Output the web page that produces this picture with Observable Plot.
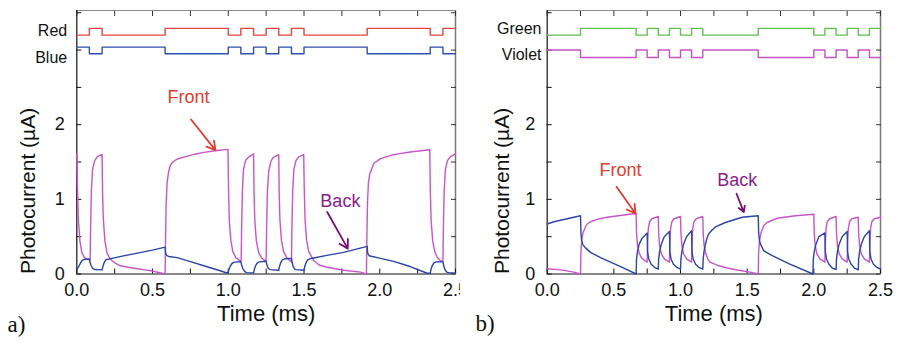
<!DOCTYPE html>
<html>
<head>
<meta charset="utf-8">
<script src="https://cdn.jsdelivr.net/npm/d3@7"></script>
<script src="https://cdn.jsdelivr.net/npm/@observablehq/plot@0.6"></script>
<style>
  html, body { margin: 0; padding: 0; background: #fff; }
  #wrap { position: relative; width: 898px; height: 343px; overflow: hidden; }
  #pa { position: absolute; left: 0; top: 0; }
  #pb { position: absolute; left: 460px; top: 0; }
</style>
</head>
<body>
<div id="wrap"><div id="pa"></div><div id="pb"></div></div>
<script>
// ---------- axes ----------
const xMax = 2.5;
const yMax = 3.53;
const xTicks = [0, 0.25, 0.5, 0.75, 1, 1.25, 1.5, 1.75, 2, 2.25, 2.5];
const xTickLabels = [0, 0.5, 1, 1.5, 2, 2.5];
const yTicks = [0, 0.5, 1, 1.5, 2, 2.5, 3, 3.5];
const yTickLabels = [0, 1, 2];

// ---------- digital drive signals (state switch times, ms) ----------
const redTimes = [0, 0.083, 0.167, 0.583, 1.0, 1.083, 1.167, 1.25, 1.333, 1.417, 1.5, 1.917, 2.333, 2.417, 2.5];
const redStates = [0, 1, 0, 1, 0, 1, 0, 1, 0, 1, 0, 1, 0, 1, 1];
const blueStates = [1, 0, 1, 0, 1, 0, 1, 0, 1, 0, 1, 0, 1, 0, 0];
const greenTimes = [0, 0.25, 0.667, 0.75, 0.833, 0.917, 1.0, 1.083, 1.167, 1.583, 2.0, 2.083, 2.167, 2.25, 2.333, 2.417, 2.5];
const greenStates = [0, 1, 0, 1, 0, 1, 0, 1, 0, 1, 0, 1, 0, 1, 0, 1, 1];
const violetStates = [1, 0, 1, 0, 1, 0, 1, 0, 1, 0, 1, 0, 1, 0, 1, 0, 0];
// high / low levels of each trace, in photocurrent-axis units
const redLevels = [3.20, 3.29];
const blueLevels = [2.95, 3.04];
const greenLevels = [3.20, 3.29];
const violetLevels = [2.90, 3.00];
const channelNamesA = ["Red", "Blue"];
const channelLabelYA = [3.26, 2.90];
const channelNamesB = ["Green", "Violet"];
const channelLabelYB = [3.28, 2.93];

// ---------- photocurrents (t in ms, I in µA) ----------
const frontA = [
  [0,1.61],[0.004,1.2],[0.01,0.75],[0.02,0.45],[0.033,0.29],[0.05,0.22],[0.07,0.2],[0.088,0.19],
  [0.091,0.6],[0.096,1.1],[0.104,1.4],[0.118,1.52],[0.135,1.57],[0.15,1.59],[0.167,1.6],
  [0.17,1.1],[0.175,0.75],[0.185,0.45],[0.2,0.28],[0.22,0.2],[0.25,0.15],[0.288,0.11],[0.34,0.09],[0.4,0.07],[0.45,0.055],[0.5,0.04],[0.54,0.02],[0.583,0],
  [0.586,0.5],[0.59,0.95],[0.596,1.22],[0.605,1.36],[0.618,1.46],[0.64,1.51],[0.663,1.54],[0.729,1.58],[0.78,1.605],[0.838,1.63],[0.927,1.655],[0.998,1.67],
  [1.002,1.1],[1.007,0.7],[1.017,0.45],[1.03,0.3],[1.05,0.22],[1.07,0.19],[1.085,0.17],
  [1.088,0.6],[1.093,1.1],[1.1,1.4],[1.114,1.52],[1.136,1.57],[1.167,1.61],
  [1.17,1.1],[1.175,0.72],[1.185,0.45],[1.2,0.29],[1.222,0.21],[1.25,0.17],
  [1.253,0.6],[1.258,1.1],[1.267,1.38],[1.28,1.5],[1.295,1.56],[1.333,1.6],
  [1.336,1.1],[1.341,0.72],[1.351,0.45],[1.365,0.3],[1.389,0.21],[1.417,0.16],
  [1.42,0.6],[1.425,1.1],[1.433,1.4],[1.447,1.52],[1.465,1.57],[1.498,1.6],
  [1.502,1.1],[1.507,0.72],[1.517,0.45],[1.531,0.3],[1.564,0.18],[1.6,0.12],[1.653,0.09],[1.762,0.05],[1.873,0.025],[1.912,0],
  [1.915,0.5],[1.919,0.95],[1.925,1.22],[1.934,1.34],[1.96,1.48],[2.005,1.545],[2.092,1.6],[2.2,1.635],[2.33,1.665],
  [2.334,1.1],[2.339,0.72],[2.349,0.45],[2.363,0.3],[2.38,0.22],[2.4,0.18],[2.417,0.17],
  [2.42,0.6],[2.425,1.1],[2.433,1.4],[2.447,1.52],[2.465,1.57],[2.5,1.61]
];
const backA = [
  [0,0.07],[0.01,0.09],[0.02,0.13],[0.028,0.16],[0.038,0.185],[0.05,0.195],[0.083,0.2],
  [0.087,0.16],[0.095,0.11],[0.105,0.075],[0.12,0.06],[0.167,0.055],
  [0.172,0.1],[0.18,0.15],[0.19,0.185],[0.2,0.195],[0.211,0.2],[0.3,0.24],[0.4,0.28],[0.5,0.32],[0.583,0.36],
  [0.586,0.28],[0.595,0.245],[0.607,0.235],[0.663,0.22],[0.75,0.165],[0.838,0.11],[0.92,0.06],[0.997,0.01],
  [1.003,0.05],[1.012,0.1],[1.022,0.135],[1.035,0.155],[1.055,0.163],[1.083,0.165],
  [1.088,0.12],[1.097,0.07],[1.108,0.035],[1.12,0.018],[1.167,0.015],
  [1.172,0.06],[1.18,0.11],[1.19,0.145],[1.205,0.162],[1.25,0.17],
  [1.255,0.12],[1.263,0.08],[1.275,0.058],[1.333,0.05],
  [1.338,0.1],[1.346,0.15],[1.356,0.19],[1.375,0.205],[1.417,0.21],
  [1.422,0.15],[1.43,0.09],[1.442,0.058],[1.5,0.05],
  [1.505,0.1],[1.513,0.15],[1.524,0.19],[1.545,0.208],[1.564,0.215],[1.65,0.25],[1.762,0.29],[1.917,0.37],
  [1.92,0.28],[1.93,0.245],[1.95,0.235],[1.983,0.22],[2.092,0.17],[2.2,0.1],[2.313,0.01],[2.333,0.01],
  [2.338,0.06],[2.346,0.11],[2.356,0.145],[2.372,0.162],[2.417,0.165],
  [2.422,0.11],[2.43,0.06],[2.442,0.025],[2.46,0.015],[2.5,0.015]
];
const frontB = [
  [0,0.07],[0.1,0.055],[0.2,0.025],[0.25,0],
  [0.253,0.3],[0.26,0.47],[0.27,0.56],[0.287,0.63],[0.3,0.67],[0.325,0.7],[0.38,0.735],[0.45,0.76],[0.575,0.79],[0.667,0.81],
  [0.67,0.55],[0.677,0.38],[0.69,0.28],[0.71,0.21],[0.73,0.18],[0.75,0.16],
  [0.753,0.4],[0.758,0.6],[0.768,0.7],[0.785,0.74],[0.833,0.77],
  [0.836,0.55],[0.843,0.38],[0.856,0.27],[0.88,0.2],[0.917,0.16],
  [0.92,0.4],[0.925,0.6],[0.935,0.7],[0.952,0.74],[1.0,0.77],
  [1.003,0.55],[1.01,0.38],[1.023,0.27],[1.047,0.2],[1.083,0.16],
  [1.086,0.4],[1.091,0.6],[1.101,0.7],[1.118,0.74],[1.167,0.77],
  [1.17,0.55],[1.177,0.38],[1.19,0.27],[1.205,0.2],[1.222,0.16],[1.287,0.11],[1.35,0.08],[1.437,0.05],[1.52,0.025],[1.583,0],
  [1.586,0.3],[1.593,0.45],[1.605,0.56],[1.625,0.65],[1.65,0.69],[1.7,0.73],[1.737,0.75],[1.862,0.78],[2.0,0.8],
  [2.003,0.55],[2.01,0.38],[2.023,0.27],[2.047,0.2],[2.083,0.16],
  [2.086,0.4],[2.091,0.6],[2.101,0.7],[2.118,0.74],[2.167,0.77],
  [2.17,0.55],[2.177,0.38],[2.19,0.27],[2.214,0.2],[2.25,0.16],
  [2.253,0.4],[2.258,0.6],[2.268,0.7],[2.285,0.74],[2.333,0.76],
  [2.336,0.55],[2.343,0.38],[2.356,0.27],[2.38,0.2],[2.417,0.16],
  [2.42,0.4],[2.425,0.6],[2.435,0.7],[2.452,0.74],[2.5,0.76]
];
const backB = [
  [0,0.67],[0.05,0.7],[0.1,0.72],[0.175,0.75],[0.25,0.78],
  [0.253,0.55],[0.258,0.45],[0.268,0.39],[0.287,0.35],[0.325,0.29],[0.4,0.22],[0.45,0.18],[0.575,0.08],[0.667,0],
  [0.67,0.2],[0.677,0.3],[0.69,0.4],[0.712,0.48],[0.75,0.55],
  [0.753,0.3],[0.762,0.2],[0.78,0.13],[0.805,0.09],[0.833,0.065],
  [0.836,0.2],[0.843,0.3],[0.856,0.4],[0.878,0.5],[0.917,0.57],
  [0.92,0.3],[0.929,0.2],[0.947,0.13],[0.972,0.09],[1.0,0.065],
  [1.003,0.2],[1.01,0.3],[1.023,0.4],[1.045,0.5],[1.083,0.58],
  [1.086,0.3],[1.095,0.2],[1.113,0.13],[1.138,0.09],[1.167,0.065],
  [1.17,0.2],[1.177,0.31],[1.187,0.4],[1.2,0.49],[1.212,0.54],[1.237,0.59],[1.262,0.63],[1.337,0.69],[1.462,0.76],[1.583,0.78],
  [1.586,0.55],[1.592,0.45],[1.6,0.4],[1.625,0.31],[1.688,0.245],[1.812,0.14],[1.993,0],
  [1.996,0.2],[2.003,0.3],[2.016,0.4],[2.038,0.5],[2.083,0.55],
  [2.086,0.3],[2.095,0.2],[2.113,0.13],[2.138,0.08],[2.167,0.06],
  [2.17,0.2],[2.177,0.3],[2.19,0.4],[2.212,0.5],[2.25,0.57],
  [2.253,0.3],[2.262,0.2],[2.28,0.13],[2.305,0.08],[2.333,0.055],
  [2.336,0.2],[2.343,0.3],[2.356,0.4],[2.378,0.5],[2.417,0.58],
  [2.42,0.3],[2.429,0.2],[2.447,0.13],[2.472,0.09],[2.5,0.067]
];

// ---------- annotations (label, anchor point, arrow from -> to) ----------
const annotA = [
  {label: "Front", x: 0.737, y: 2.37, x1: 0.754, y1: 2.07, x2: 0.915, y2: 1.66},
  {label: "Back", x: 1.74, y: 0.98, x1: 1.653, y1: 0.83, x2: 1.789, y2: 0.34}
];
const annotB = [
  {label: "Front", x: 0.55, y: 1.39, x1: 0.52, y1: 1.17, x2: 0.662, y2: 0.81},
  {label: "Back", x: 1.425, y: 1.26, x1: 1.42, y1: 1.075, x2: 1.475, y2: 0.83}
];

// ---------- styling ----------
const C = {
  front: "#c954c9", back: "#2a45a5",
  red: "#e6453b", blue: "#2f4fb0", green: "#5cc44a", violet: "#c653c6",
  frontText: "#e63a2e", backText: "#8a1c8a", backArrow: "#7a0e7a"
};
const FONT = "Liberation Sans, Arial, Helvetica, sans-serif";

function steps(times, states, levels) {
  return times.map((t, i) => ({t, v: levels[states[i]]}));
}
const pts = (arr) => arr.map(([t, v]) => ({t, v}));

function panel({width, marginLeft, marginRight, ch1, ch2, chNames, chLabelY, chLabelDx, front, back, annot, letter, letterDx, letterDy, ylabelDx}) {
  return Plot.plot({
    width, height: 343,
    marginLeft, marginRight, marginTop: 10, marginBottom: 69.5,
    x: {domain: [0, xMax]},
    y: {domain: [0, yMax]},
    style: {fontFamily: FONT, fontSize: "18px", background: "#fff", color: "#111", overflow: "visible"},
    marks: [
      // frame
      Plot.ruleY([yMax], {stroke: "#8a8a8a", strokeWidth: 1}),
      Plot.ruleX([xMax], {stroke: "#7a7a7a", strokeWidth: 1.5}),
      Plot.ruleY([0], {stroke: "#111", strokeWidth: 1.2}),
      Plot.ruleX([0], {stroke: "#111", strokeWidth: 1.2}),
      // inward ticks on all sides
      Plot.axisX(xTicks, {anchor: "bottom", tickSize: -5, fill: "none", label: null, stroke: "#111"}),
      Plot.axisX(xTicks, {anchor: "top", tickSize: -5, fill: "none", label: null, stroke: "#333"}),
      Plot.axisY(yTicks, {anchor: "left", tickSize: -5, fill: "none", label: null, stroke: "#111"}),
      Plot.axisY(yTicks, {anchor: "right", tickSize: -5, fill: "none", label: null, stroke: "#333"}),
      // tick labels
      Plot.axisX(xTickLabels, {anchor: "bottom", tickSize: 0, tickPadding: 9, tickFormat: (d) => d.toFixed(1), label: null}),
      Plot.axisY(yTickLabels, {anchor: "left", tickSize: 0, tickPadding: 12, tickFormat: (d) => String(d), label: null}),
      // digital drive traces
      Plot.line(ch1.data, {x: "t", y: "v", curve: "step-after", stroke: ch1.color, strokeWidth: 1.4}),
      Plot.line(ch2.data, {x: "t", y: "v", curve: "step-after", stroke: ch2.color, strokeWidth: 1.4}),
      Plot.text(chNames, {x: () => 0, y: (d, i) => chLabelY[i], textAnchor: "end", dx: chLabelDx, fontSize: 16, fill: "#111"}),
      // photocurrents
      Plot.line(pts(front), {x: "t", y: "v", stroke: C.front, strokeWidth: 1.4}),
      Plot.line(pts(back), {x: "t", y: "v", stroke: C.back, strokeWidth: 1.4}),
      // annotations
      Plot.arrow([annot[0]], {x1: "x1", y1: "y1", x2: "x2", y2: "y2", stroke: C.frontText, strokeWidth: 1.8, headLength: 8}),
      Plot.arrow([annot[1]], {x1: "x1", y1: "y1", x2: "x2", y2: "y2", stroke: C.backArrow, strokeWidth: 1.8, headLength: 8}),
      Plot.text([annot[0]], {x: "x", y: "y", text: "label", fill: C.frontText, fontSize: 18}),
      Plot.text([annot[1]], {x: "x", y: "y", text: "label", fill: C.backText, fontSize: 18}),
      // axis titles and panel letter
      Plot.text(["Time (ms)"], {frameAnchor: "bottom", dy: 46.5, fontSize: 22, fill: "#111"}),
      Plot.text(["Photocurrent (µA)"], {frameAnchor: "bottom-left", rotate: -90, textAnchor: "start", dx: ylabelDx, fontSize: 21, fill: "#111"}),
      Plot.text([letter], {frameAnchor: "bottom-left", textAnchor: "start", dx: letterDx, dy: letterDy, fontSize: 23, fontFamily: "Liberation Serif, Times New Roman, serif", fill: "#111"})
    ]
  });
}

document.getElementById("pa").appendChild(panel({
  width: 460, marginLeft: 76.3, marginRight: 5,
  ch1: {data: steps(redTimes, redStates, redLevels), color: C.red},
  ch2: {data: steps(redTimes, blueStates, blueLevels), color: C.blue},
  chNames: channelNamesA, chLabelY: channelLabelYA, chLabelDx: -9.6,
  front: frontA, back: backA, annot: annotA,
  letter: "a)", letterDx: -69.3, letterDy: 57.5, ylabelDx: -42
}));
document.getElementById("pb").appendChild(panel({
  width: 438, marginLeft: 86.7, marginRight: 18,
  ch1: {data: steps(greenTimes, greenStates, greenLevels), color: C.green},
  ch2: {data: steps(greenTimes, violetStates, violetLevels), color: C.violet},
  chNames: channelNamesB, chLabelY: channelLabelYB, chLabelDx: -5.7,
  front: frontB, back: backB, annot: annotB,
  letter: "b)", letterDx: -71.7, letterDy: 56.5, ylabelDx: -38.7
}));
</script>
</body>
</html>
